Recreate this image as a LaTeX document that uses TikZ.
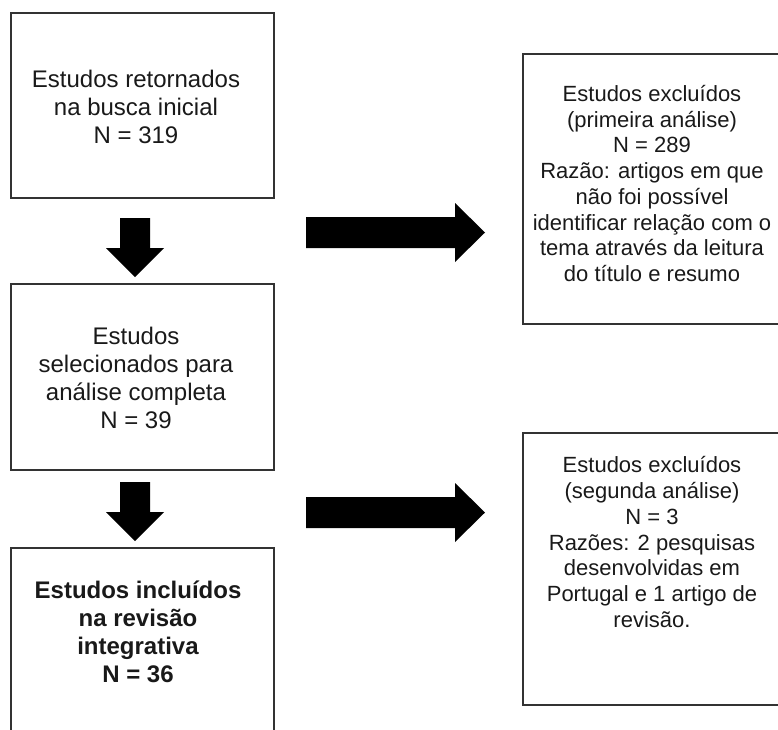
\documentclass[tikz,border=0pt]{standalone}
\usepackage{fontspec}
\setmainfont{Liberation Sans}
\begin{document}
\begin{tikzpicture}[x=1pt,y=-1pt,
  box/.style={draw=black!80, line width=1.1pt, fill=none},
  bigtext/.style={inner sep=0pt, align=center, text=black!90,
    font=\fontsize{24}{28}\selectfont},
  smalltext/.style={inner sep=0pt, align=center, text=black!90,
    font=\fontsize{22}{25.7}\selectfont},
  blockarrow/.style={fill=black, draw=none}]
\useasboundingbox (0,0) rectangle (778,729);

% left column boxes
\draw[box] (11,13) rectangle (274,198);
\draw[box] (11,284) rectangle (274,470);
\draw[box] (11,548) rectangle (274,745);
% right column boxes
\draw[box] (523,54) rectangle (782,324);
\draw[box] (523,433) rectangle (782,705);

\node[bigtext] (busca) at (136,107)
  {Estudos retornados\\na busca inicial\\N = 319};
\node[bigtext] (selec) at (136,378)
  {Estudos\\selecionados para\\análise completa\\N = 39};
\node[bigtext, font=\fontsize{24}{28}\selectfont\bfseries] (incl) at (138,632)
  {Estudos incluídos\\na revisão\\integrativa\\N = 36};
\node[smalltext] (excl1) at (652,183.5)
  {Estudos excluídos\\(primeira análise)\\N = 289\\Razão: artigos em que\\não foi possível\\identificar relação com o\\tema através da leitura\\do título e resumo};
\node[smalltext] (excl2) at (652,542)
  {Estudos excluídos\\(segunda análise)\\N = 3\\Razões: 2 pesquisas\\desenvolvidas em\\Portugal e 1 artigo de\\revisão.};

% block arrows: downward between left boxes, rightward to exclusions
\coordinate (d1) at (135,218);
\coordinate (d2) at (135,482);
\coordinate (r1) at (306,232.5);
\coordinate (r2) at (306,512.5);

\foreach \c in {d1,d2}
  \fill[blockarrow] (\c) ++(-15,0) -- ++(30,0) -- ++(0,30) -- ++(14,0)
    -- ++(-29,29) -- ++(-29,-29) -- ++(14,0) -- cycle;
\foreach \c in {r1,r2}
  \fill[blockarrow] (\c) ++(0,-15.5) -- ++(149,0) -- ++(0,-14) -- ++(30,29.5)
    -- ++(-30,29.5) -- ++(0,-14) -- ++(-149,0) -- cycle;
\end{tikzpicture}
\end{document}
